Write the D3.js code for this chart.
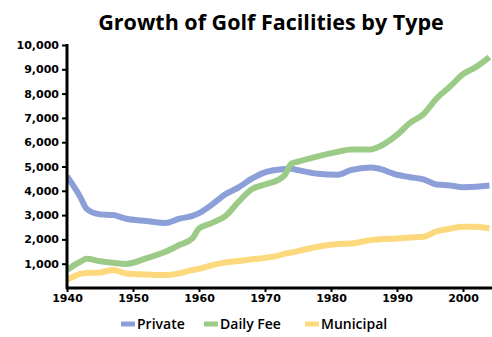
<!DOCTYPE html>
<head>
  <meta charset="utf-8">
  <script src="https://cdnjs.cloudflare.com/ajax/libs/d3/7.8.5/d3.min.js"></script>
</head>

<style>
body {
  margin: 0;
  background-color: #fff;
}
svg {
  display: block;
}
.title {
  font-family: 'Open Sans', sans-serif;
  font-weight: bold;
  font-size: 21.5px;
}
.axis text {
  font-family: 'DejaVu Sans', Verdana, sans-serif;
  font-weight: bold;
  font-size: 11px;
  fill: #000;
}
.axis path, .axis line {
  stroke: #000;
}
.legend text {
  font-family: 'Open Sans', sans-serif;
  font-weight: 600;
  font-size: 14px;
}
</style>

<body>
  <svg id='chart' width='492' height='337'></svg>
</body>

<script>

var years = [1940, 1942, 1943, 1945, 1947, 1949, 1952, 1955, 1957, 1959, 1960, 1962, 1964, 1966, 1968, 1970,
             1972, 1973, 1974, 1975, 1978, 1981, 1983, 1986, 1987, 1990, 1992, 1994, 1996, 1998, 2000, 2002, 2004];

var private_vals = [4600, 3750, 3250, 3030, 3000, 2850, 2760, 2680, 2850, 2970, 3080, 3440, 3860, 4140, 4500, 4760,
                    4870, 4900, 4910, 4850, 4700, 4660, 4850, 4960, 4930, 4660, 4560, 4470, 4260, 4220, 4150, 4170, 4220];

var daily_fee = [740, 1080, 1200, 1100, 1040, 990, 1220, 1500, 1770, 2040, 2450, 2680, 2960, 3550, 4060, 4260,
                 4450, 4650, 5120, 5200, 5420, 5600, 5700, 5700, 5780, 6300, 6800, 7150, 7800, 8280, 8800, 9100, 9500];

var municipal = [330, 580, 620, 640, 740, 600, 560, 530, 600, 740, 790, 940, 1050, 1110, 1180, 1240,
                 1330, 1410, 1460, 1520, 1700, 1810, 1830, 1970, 2000, 2040, 2080, 2110, 2330, 2440, 2520, 2520, 2450];

var x_ticks = [1940, 1950, 1960, 1970, 1980, 1990, 2000];
var y_ticks = [1000, 2000, 3000, 4000, 5000, 6000, 7000, 8000, 9000, 10000];

var series_names = ['Private', 'Daily Fee', 'Municipal'];
var colours = ['#8c9fd9', '#9ccb88', '#fbd97c'];

var svg = d3.select('#chart');

var x = d3.scaleLinear().domain([1940, 2000]).range([67, 463]);
var y = d3.scaleLinear().domain([0, 10000]).range([288, 45]);

svg.append('text')
    .attr('class', 'title')
    .attr('x', 271)
    .attr('y', 30)
    .attr('text-anchor', 'middle')
    .text('Growth of Golf Facilities by Type');

svg.append('clipPath').attr('id', 'clip')
  .append('rect')
    .attr('x', 67).attr('y', 0)
    .attr('width', 425).attr('height', 288);

var line = d3.line()
    .x(function(d) { return x(d[0]); })
    .y(function(d) { return y(d[1]); })
    .curve(d3.curveMonotoneX);

[private_vals, daily_fee, municipal].forEach(function(vals, i) {
  svg.append('path')
      .datum(years.map(function(yr, j) { return [yr, vals[j]]; }))
      .attr('clip-path', 'url(#clip)')
      .attr('fill', 'none')
      .attr('stroke', colours[i])
      .attr('stroke-width', 6)
      .attr('stroke-linejoin', 'round')
      .attr('d', line);
});

var y_axis = svg.append('g')
    .attr('class', 'axis')
    .attr('transform', 'translate(67,0)')
    .call(d3.axisLeft(y).tickValues(y_ticks).tickSize(5).tickPadding(3).tickFormat(d3.format(',')));
y_axis.select('.domain').attr('d', 'M0,44V289').attr('stroke-width', 3);
y_axis.selectAll('.tick line').attr('stroke-width', 2);

var x_axis = svg.append('g')
    .attr('class', 'axis')
    .attr('transform', 'translate(0,288)')
    .call(d3.axisBottom(x).tickValues(x_ticks).tickSize(4).tickPadding(2).tickFormat(d3.format('d')));
x_axis.select('.domain').attr('d', 'M66,0H492').attr('stroke-width', 3);
x_axis.selectAll('.tick line').attr('stroke-width', 2);

var legend_x = [121, 204, 305];
var legend = svg.append('g').attr('class', 'legend');
series_names.forEach(function(name, i) {
  legend.append('line')
      .attr('x1', legend_x[i]).attr('x2', legend_x[i] + 14)
      .attr('y1', 324).attr('y2', 324)
      .attr('stroke', colours[i])
      .attr('stroke-width', 5);
  legend.append('text')
      .attr('x', legend_x[i] + 16)
      .attr('y', 329)
      .text(name);
});

</script>
